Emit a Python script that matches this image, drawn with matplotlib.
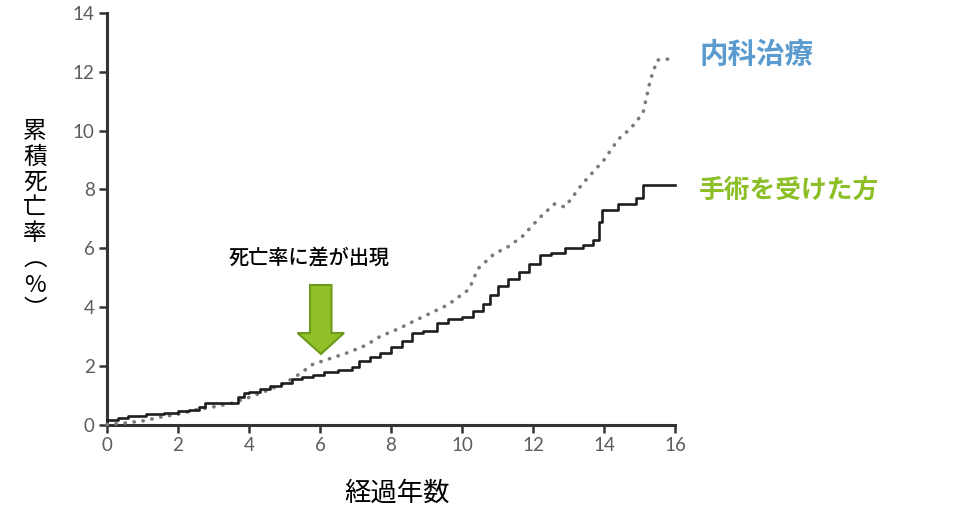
import matplotlib
matplotlib.use("Agg")
import matplotlib.pyplot as plt
from matplotlib.patches import Polygon

plt.rcParams['font.family'] = ['Noto Sans CJK JP', 'DejaVu Sans']

# Cumulative mortality (%) by years of follow-up
surgery_years = [0, 0.3, 0.6, 1.1, 1.6, 2.0, 2.3, 2.6, 2.75, 3.7, 3.85, 4.0, 4.3,
                 4.6, 4.9, 5.2, 5.5, 5.8, 6.1, 6.5, 6.9, 7.1, 7.4, 7.7, 8.0, 8.3,
                 8.6, 8.9, 9.3, 9.6, 10.0, 10.3, 10.6, 10.8, 11.0, 11.3, 11.6,
                 11.9, 12.2, 12.5, 12.9, 13.4, 13.7, 13.85, 13.95, 14.4, 14.9,
                 15.1, 16.0]
surgery_rate = [0.15, 0.22, 0.30, 0.35, 0.38, 0.45, 0.50, 0.60, 0.73, 0.95, 1.07,
                1.12, 1.20, 1.30, 1.42, 1.55, 1.63, 1.70, 1.77, 1.85, 1.95, 2.15,
                2.28, 2.42, 2.65, 2.85, 3.10, 3.18, 3.45, 3.58, 3.65, 3.85, 4.10,
                4.40, 4.70, 4.95, 5.20, 5.45, 5.75, 5.85, 6.00, 6.10, 6.27, 6.90,
                7.30, 7.50, 7.70, 8.15, 8.15]

medical_years = [0, 0.5, 1.0, 1.5, 2.0, 2.5, 3.0, 3.5, 4.0, 4.5, 5.0, 5.4, 5.8,
                 6.3, 6.8, 7.3, 7.7, 8.2, 8.7, 9.1, 9.6, 10.2, 10.45, 10.9, 11.3,
                 11.7, 12.2, 12.6, 12.9, 13.4, 14.0, 14.4, 14.75, 15.1, 15.3,
                 15.5, 16.0]
medical_rate = [0.0, 0.05, 0.12, 0.25, 0.35, 0.50, 0.60, 0.72, 0.92, 1.15, 1.40,
                1.70, 2.05, 2.25, 2.45, 2.70, 3.00, 3.25, 3.55, 3.78, 4.07, 4.60,
                5.30, 5.80, 6.05, 6.40, 7.05, 7.50, 7.40, 8.20, 9.00, 9.70, 10.07,
                10.60, 11.70, 12.40, 12.45]

x_ticks = [0, 2, 4, 6, 8, 10, 12, 14, 16]
y_ticks = [0, 2, 4, 6, 8, 10, 12, 14]

W, H = 972, 527
fig = plt.figure(figsize=(W / 100, H / 100), dpi=100)


def fx(x):
    return x / W


def fy(y):
    return 1 - y / H


ax = fig.add_axes([fx(107), fy(424.5), fx(675) - fx(107), fy(13) - fy(424.5)])
ax.set_xlim(0, 16)
ax.set_ylim(0, 14)

ax.plot(medical_years, medical_rate, color='#7a7a7a', lw=2.6,
        linestyle=(0, (0.1, 2.4)), dash_capstyle='round', solid_capstyle='round',
        clip_on=False, zorder=3)
ax.plot(surgery_years, surgery_rate, color='#1e1e1e', lw=1.9,
        drawstyle='steps-post', clip_on=False, zorder=4)

for side in ('top', 'right'):
    ax.spines[side].set_visible(False)
for side in ('left', 'bottom'):
    ax.spines[side].set_color('#333333')
    ax.spines[side].set_linewidth(2.2)

ax.set_xticks(x_ticks)
ax.set_yticks(y_ticks)
ax.tick_params(axis='both', direction='out', length=6, width=1.8,
               color='#333333', labelcolor='#5c5c5c', labelsize=13.5, pad=3)
for lab in ax.get_xticklabels() + ax.get_yticklabels():
    lab.set_family(['Lato', 'DejaVu Sans'])

# Series labels
fig.text(fx(699), fy(55), '内科治療', color='#5b9bcf', fontsize=20.5,
         fontweight='bold', ha='left', va='center')
fig.text(fx(699), fy(190), '手術を受けた方', color='#8cbf26', fontsize=18.5,
         fontweight='bold', ha='left', va='center')

# Axis titles
fig.text(fx(397), fy(493), '経過年数', color='black', fontsize=19,
         ha='center', va='center')
y_label = '累積死亡率︵%︶'
y_pos = [132, 157, 182, 207, 233, 260, 286, 310]
for ch, yp in zip(y_label, y_pos):
    fig.text(fx(35), fy(yp), ch, color='black', fontsize=17,
             ha='center', va='center')

# Annotation with a block arrow
fig.text(fx(309), fy(258), '死亡率に差が出現', color='black', fontsize=14.5,
         ha='center', va='center', fontweight='medium')
arrow_px = [(310, 285), (331.5, 285), (331.5, 333), (344, 333), (321, 354),
            (297.5, 333), (310, 333)]
arrow = Polygon([(fx(x), fy(y)) for x, y in arrow_px], closed=True,
                transform=fig.transFigure, facecolor='#8fc027',
                edgecolor='#6c9a1c', linewidth=1.5, zorder=10)
fig.patches.append(arrow)

fig.savefig('out.png', dpi=100)
